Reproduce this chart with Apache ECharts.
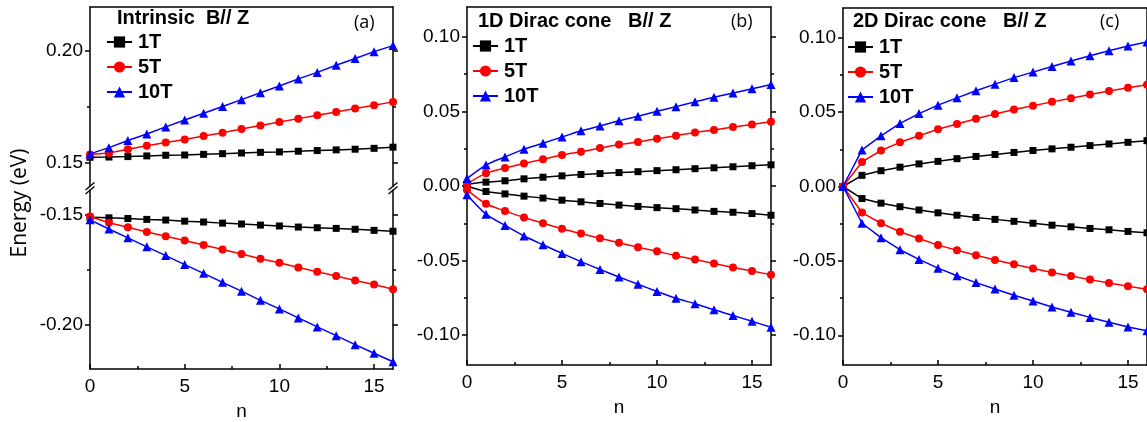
<!DOCTYPE html>
<html>
<head>
<meta charset="utf-8">
<script src="https://cdn.jsdelivr.net/npm/echarts@6/dist/echarts.min.js"></script>
<style>
  html, body { margin: 0; padding: 0; background: #fff; }
  #main { width: 1147px; height: 422px; }
</style>
</head>
<body>
<div id="main"></div>
<script>
var nValues = [0, 1, 2, 3, 4, 5, 6, 7, 8, 9, 10, 11, 12, 13, 14, 15, 16];
var fieldNames = ['1T', '5T', '10T'];
var xTicks = [0, 5, 10, 15];
var xMinorTicks = [2.5, 7.5, 12.5];
var yTicksAUp = [0.15, 0.20];
var yMinorAUp = [0.175];
var yTicksALow = [-0.15, -0.20];
var yMinorALow = [-0.175];
var yTicksBC = [-0.10, -0.05, 0, 0.05, 0.10];
var yMinorBC = [-0.075, -0.025, 0.025, 0.075];

// (a) intrinsic
var intr1Up = [0.1524, 0.1525, 0.1527, 0.1530, 0.1533, 0.1534, 0.1537, 0.1540, 0.1543, 0.1546, 0.1548, 0.1551, 0.1554, 0.1557, 0.1560, 0.1564, 0.1569];
var intr5Up = [0.1536, 0.1543, 0.1560, 0.1576, 0.1590, 0.1604, 0.1619, 0.1634, 0.1651, 0.1666, 0.1682, 0.1697, 0.1712, 0.1727, 0.1742, 0.1757, 0.1772];
var intr10Up = [0.1539, 0.1567, 0.1599, 0.1628, 0.1660, 0.1691, 0.1721, 0.1751, 0.1782, 0.1813, 0.1843, 0.1875, 0.1904, 0.1936, 0.1966, 0.1997, 0.2024];
var intr1Low = [-0.1511, -0.1514, -0.1517, -0.1521, -0.1524, -0.1529, -0.1533, -0.1538, -0.1542, -0.1547, -0.1551, -0.1556, -0.1559, -0.1562, -0.1566, -0.1571, -0.1575];
var intr5Low = [-0.1508, -0.1536, -0.1557, -0.1578, -0.1598, -0.1617, -0.1638, -0.1658, -0.1679, -0.1700, -0.1719, -0.1740, -0.1760, -0.1779, -0.1800, -0.1818, -0.1839];
var intr10Low = [-0.1523, -0.1565, -0.1605, -0.1646, -0.1686, -0.1727, -0.1767, -0.1808, -0.1848, -0.1890, -0.1929, -0.1970, -0.2011, -0.2051, -0.2092, -0.2131, -0.2170];

// (b) 1D Dirac cone
var d1_1Up = [0.0011, 0.0026, 0.0035, 0.0048, 0.0059, 0.0068, 0.0077, 0.0083, 0.0090, 0.0096, 0.0103, 0.0109, 0.0116, 0.0122, 0.0129, 0.0136, 0.0142];
var d1_5Up = [0.0015, 0.0085, 0.0120, 0.0151, 0.0179, 0.0208, 0.0230, 0.0254, 0.0278, 0.0295, 0.0317, 0.0337, 0.0359, 0.0376, 0.0396, 0.0413, 0.0431];
var d1_10Up = [0.0050, 0.0140, 0.0195, 0.0247, 0.0287, 0.0328, 0.0370, 0.0402, 0.0437, 0.0468, 0.0501, 0.0532, 0.0564, 0.0595, 0.0623, 0.0652, 0.0680];
var d1_1Low = [0, -0.0037, -0.0053, -0.0068, -0.0081, -0.0095, -0.0106, -0.0117, -0.0128, -0.0137, -0.0145, -0.0152, -0.0161, -0.0170, -0.0176, -0.0185, -0.0196];
var d1_5Low = [-0.0026, -0.0119, -0.0167, -0.0211, -0.0249, -0.0286, -0.0319, -0.0350, -0.0381, -0.0410, -0.0438, -0.0467, -0.0493, -0.0520, -0.0546, -0.0570, -0.0595];
var d1_10Low = [-0.0059, -0.0189, -0.0264, -0.0335, -0.0394, -0.0452, -0.0507, -0.0559, -0.0610, -0.0659, -0.0707, -0.0753, -0.0789, -0.0830, -0.0868, -0.0907, -0.0947];

// (c) 2D Dirac cone
var d2_1Up = [0, 0.0075, 0.0106, 0.0130, 0.0152, 0.0169, 0.0187, 0.0202, 0.0215, 0.0229, 0.0242, 0.0253, 0.0264, 0.0275, 0.0286, 0.0297, 0.0308];
var d2_5Up = [0, 0.0165, 0.0242, 0.0297, 0.0341, 0.0385, 0.0420, 0.0455, 0.0488, 0.0517, 0.0543, 0.0569, 0.0594, 0.0618, 0.0642, 0.0664, 0.0684];
var d2_10Up = [0, 0.0246, 0.0341, 0.0424, 0.0490, 0.0547, 0.0596, 0.0644, 0.0688, 0.0732, 0.0769, 0.0807, 0.0844, 0.0879, 0.0912, 0.0945, 0.0972];
var d2_1Low = [0, -0.0081, -0.0112, -0.0136, -0.0158, -0.0177, -0.0193, -0.0208, -0.0221, -0.0234, -0.0247, -0.0260, -0.0271, -0.0282, -0.0291, -0.0302, -0.0311];
var d2_5Low = [0, -0.0175, -0.0247, -0.0304, -0.0350, -0.0394, -0.0429, -0.0462, -0.0494, -0.0523, -0.0551, -0.0578, -0.0602, -0.0626, -0.0648, -0.0670, -0.0691];
var d2_10Low = [0, -0.0247, -0.0344, -0.0425, -0.0490, -0.0549, -0.0600, -0.0646, -0.0689, -0.0731, -0.0770, -0.0810, -0.0845, -0.0880, -0.0912, -0.0945, -0.0969];

var colors = ['#000000', '#ff0000', '#0000ff'];
var symbols = ['rect', 'circle', 'triangle'];
var symbolSizes = [7, 8, 9];
var axisColor = '#000';
var labelFont = 'Liberation Sans, Arial, sans-serif';

var dom = document.getElementById('main');
var chart = echarts.init(dom, null, { renderer: 'canvas' });

var grids = [
    { left: 90, top: 7, width: 303, height: 179.5 },   // (a) upper
    { left: 90, top: 190, width: 303, height: 181 },   // (a) lower
    { left: 467, top: 7, width: 304, height: 364 },    // (b)
    { left: 843, top: 8, width: 304, height: 363.5 }   // (c)
];

var xAxes = [];
var yAxes = [];

function lineStyle() {
    return { color: axisColor, width: 1.5 };
}

// returns index of main x axis in that grid
function addXAxes(gridIndex, withBottom, withTop) {
    var main = -1;
    if (withBottom) {
        main = xAxes.length;
        xAxes.push({
            type: 'value', gridIndex: gridIndex, min: 0, max: 16, position: 'bottom',
            axisLine: { show: true, onZero: false, lineStyle: lineStyle() },
            axisTick: { show: true, inside: true, length: 5, customValues: xTicks, lineStyle: lineStyle() },
            axisLabel: { customValues: xTicks, fontSize: 19, color: '#000', margin: 8, fontFamily: labelFont },
            splitLine: { show: false },
            name: 'n', nameLocation: 'middle', nameGap: 33,
            nameTextStyle: { fontSize: 19, color: '#000', fontFamily: labelFont }
        });
        xAxes.push({
            type: 'value', gridIndex: gridIndex, min: 0, max: 16, position: 'bottom',
            axisLine: { show: false, onZero: false },
            axisTick: { show: true, inside: true, length: 3, customValues: xMinorTicks, lineStyle: lineStyle() },
            axisLabel: { show: false },
            splitLine: { show: false }
        });
    }
    if (withTop) {
        if (main < 0) main = xAxes.length;
        xAxes.push({
            type: 'value', gridIndex: gridIndex, min: 0, max: 16, position: 'top',
            axisLine: { show: true, onZero: false, lineStyle: lineStyle() },
            axisTick: { show: false },
            axisLabel: { show: false },
            splitLine: { show: false }
        });
    }
    return main;
}

function addYAxes(gridIndex, min, max, major, minor) {
    var main = yAxes.length;
    ['left', 'right'].forEach(function(pos) {
        yAxes.push({
            type: 'value', gridIndex: gridIndex, min: min, max: max, position: pos,
            axisLine: { show: true, onZero: false, lineStyle: lineStyle() },
            axisTick: { show: true, inside: false, length: 5, customValues: major, lineStyle: lineStyle() },
            axisLabel: {
                show: pos === 'left', customValues: major, fontSize: 19, color: '#000', margin: 7,
                fontFamily: labelFont,
                formatter: function(v) { return v.toFixed(2); }
            },
            splitLine: { show: false }
        });
        yAxes.push({
            type: 'value', gridIndex: gridIndex, min: min, max: max, position: pos,
            axisLine: { show: false, onZero: false },
            axisTick: { show: true, inside: false, length: 3, customValues: minor, lineStyle: lineStyle() },
            axisLabel: { show: false },
            splitLine: { show: false }
        });
    });
    return main;
}

var xa0 = addXAxes(0, false, true);
var ya0 = addYAxes(0, 0.1393, 0.2197, yTicksAUp, yMinorAUp);
var xa1 = addXAxes(1, true, false);
var ya1 = addYAxes(1, -0.2203, -0.1387, yTicksALow, yMinorALow);
var xa2 = addXAxes(2, true, true);
var ya2 = addYAxes(2, -0.12, 0.12, yTicksBC, yMinorBC);
var xa3 = addXAxes(3, true, true);
var ya3 = addYAxes(3, -0.12, 0.12, yTicksBC, yMinorBC);

var series = [];
function addSeries(k, values, xi, yi, smooth) {
    series.push({
        name: fieldNames[k],
        type: 'line',
        xAxisIndex: xi,
        yAxisIndex: yi,
        data: nValues.map(function(n, i) { return [n, values[i]]; }),
        symbol: symbols[k],
        symbolSize: symbolSizes[k],
        smooth: smooth || false,
        itemStyle: { color: colors[k] },
        lineStyle: { color: colors[k], width: 1.5 },
        z: 2 + k,
        animation: false
    });
}

[intr1Up, intr5Up, intr10Up].forEach(function(v, k) { addSeries(k, v, xa0, ya0); });
[intr1Low, intr5Low, intr10Low].forEach(function(v, k) { addSeries(k, v, xa1, ya1); });
[d1_1Up, d1_5Up, d1_10Up].forEach(function(v, k) { addSeries(k, v, xa2, ya2, 0.3); });
[d1_1Low, d1_5Low, d1_10Low].forEach(function(v, k) { addSeries(k, v, xa2, ya2, 0.3); });
[d2_1Up, d2_5Up, d2_10Up].forEach(function(v, k) { addSeries(k, v, xa3, ya3); });
[d2_1Low, d2_5Low, d2_10Low].forEach(function(v, k) { addSeries(k, v, xa3, ya3); });

function legendAt(left, top) {
    return {
        data: fieldNames, orient: 'vertical', left: left, top: top,
        itemWidth: 25, itemHeight: 14, itemGap: 5, padding: 0,
        selectedMode: false,
        textStyle: { fontSize: 20, fontWeight: 'bold', color: '#000', fontFamily: labelFont, padding: [0, 0, 0, 1] }
    };
}

function titleAt(text, left, top, bold) {
    return {
        text: text, left: left, top: top, padding: 0,
        textStyle: bold
            ? { fontSize: 20, fontWeight: 'bold', color: '#000', fontFamily: labelFont }
            : { fontSize: 18, fontWeight: 'normal', color: '#000', fontFamily: 'Open Sans, sans-serif' }
    };
}

// break marks on the split axis of panel (a)
function breakMarks(x) {
    return [
        { type: 'line', shape: { x1: x - 4.5, y1: 190, x2: x + 4.5, y2: 182.5 }, style: { stroke: '#000', lineWidth: 1.3 } },
        { type: 'line', shape: { x1: x - 4.5, y1: 194, x2: x + 4.5, y2: 186.5 }, style: { stroke: '#000', lineWidth: 1.3 } }
    ];
}

var option = {
    backgroundColor: '#fff',
    animation: false,
    grid: grids,
    xAxis: xAxes,
    yAxis: yAxes,
    series: series,
    legend: [legendAt(106, 32), legendAt(472, 36), legendAt(847, 37)],
    title: [
        titleAt('Intrinsic  B// Z', 117, 8, true),
        titleAt('(a)', 354, 14, false),
        titleAt('1D Dirac cone   B// Z', 478, 11, true),
        titleAt('(b)', 731, 13, false),
        titleAt('2D Dirac cone   B// Z', 853, 11, true),
        titleAt('(c)', 1100, 13, false)
    ],
    graphic: breakMarks(90).concat(breakMarks(393)).concat([{
        type: 'text',
        x: 20, y: 203,
        rotation: Math.PI / 2,
        style: {
            text: 'Energy (eV)', fontSize: 21, fill: '#000',
            fontFamily: 'Open Sans, sans-serif',
            align: 'center', verticalAlign: 'middle'
        }
    }])
};

if (option && typeof option === 'object') {
    chart.setOption(option, true);
}
</script>
</body>
</html>
